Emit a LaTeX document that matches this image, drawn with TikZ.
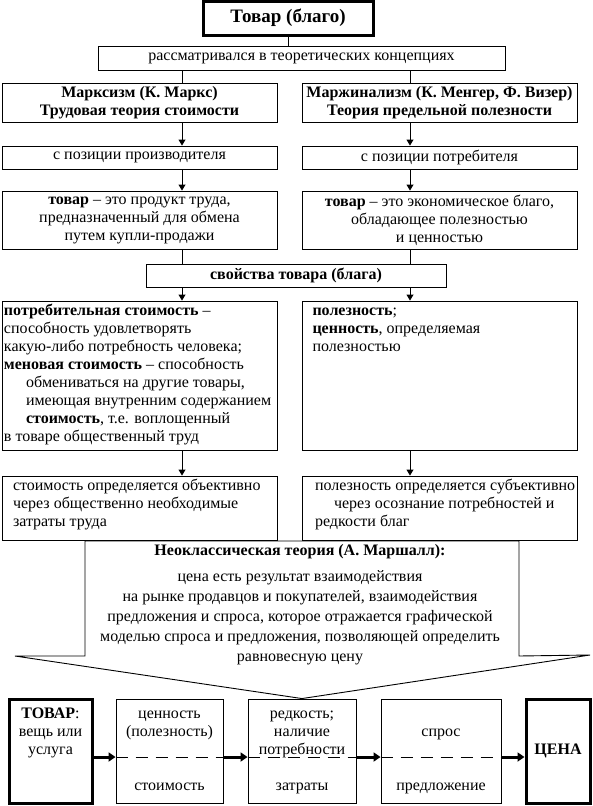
\documentclass[tikz,border=0pt]{standalone}
\usepackage{fontspec}
\setmainfont{Liberation Serif}
\usepackage{tikz}
\usetikzlibrary{arrows.meta, positioning, calc}

\newcommand{\bodyfont}{\fontsize{16pt}{18pt}\selectfont}
\newcommand{\rows}[1]{\begin{tabular}{@{}c@{}}#1\end{tabular}}
\newcommand{\leftcell}[3]{\parbox[c][#1][t]{#2}{\begin{tabular}{@{}l@{}}#3\end{tabular}}}

\begin{document}
\begin{tikzpicture}[x=1pt, y=-1pt, font=\bodyfont,
  box/.style={draw, line width=0.9pt, inner sep=0pt, align=center},
  heavybox/.style={box, line width=3pt},
  link/.style={line width=0.9pt},
  arr/.style={line width=0.9pt, -{Triangle[length=6pt, width=7pt]}},
  flow/.style={line width=3pt, -{Triangle[length=7pt, width=9pt]}},
  split/.style={line width=0.9pt, dash pattern=on 12pt off 8pt}]
  \useasboundingbox (0,0) rectangle (592,806);

  % Header
  \node[heavybox, minimum width=170pt, minimum height=34pt, font=\fontsize{19pt}{22pt}\selectfont\bfseries] (title) at (288,18) {Товар (благо)};
  \node[box, minimum width=407pt, minimum height=24pt] (concepts) at (301.5,58) {рассматривался в теоретических концепциях};
  \coordinate (lcol) at (182,0);
  \coordinate (rcol) at (410,0);

  % Marxism
  \node[box, minimum width=275pt, minimum height=39pt, font=\bodyfont\bfseries] (theoryL) at (139.5,102.5) {Марксизм (К. Маркс)\\Трудовая теория стоимости};
  \node[box, minimum width=275pt, minimum height=23pt] (viewL) at (139.5,157.5) {с позиции производителя};
  \node[box, minimum width=275pt, minimum height=58pt] (defL) at (139.5,220) {\textbf{товар} – это продукт труда,\\предназначенный для обмена\\путем купли-продажи};

  % Marginalism
  \node[box, minimum width=275pt, minimum height=39pt, font=\bodyfont\bfseries] (theoryR) at (439.5,102.5) {Маржинализм (К. Менгер, Ф. Визер)\\Теория предельной полезности};
  \node[box, minimum width=275pt, minimum height=23pt] (viewR) at (439.5,157.5) {с позиции потребителя};
  \node[box, minimum width=275pt, minimum height=58pt] (defR) at (439.5,220) {\textbf{товар} – это экономическое благо,\\обладающее полезностью\\и ценностью};

  % Properties
  \node[box, minimum width=300pt, minimum height=23pt, font=\bodyfont\bfseries] (props) at (296,275.5) {свойства товара (блага)};
  \node[box, minimum width=275pt, minimum height=149pt] (propL) at (139.5,375.5) {\leftcell{145pt}{271pt}{\textbf{потребительная стоимость} –\\способность удовлетворять\\какую-либо потребность человека;\\\textbf{меновая стоимость} – способность\\\hspace*{22pt}обмениваться на другие товары,\\\hspace*{22pt}имеющая внутренним содержанием\\\hspace*{22pt}\textbf{стоимость}, т.е. воплощенный\\в товаре общественный труд}};
  \node[box, minimum width=275pt, minimum height=149pt] (propR) at (439.5,375.5) {\leftcell{145pt}{254pt}{\textbf{полезность};\\\textbf{ценность}, определяемая\\полезностью}};

  % Value sources
  \node[box, minimum width=275pt, minimum height=64pt] (costL) at (139.5,508) {\leftcell{60pt}{253pt}{стоимость определяется объективно\\через общественно необходимые\\затраты труда}};
  \node[box, minimum width=275pt, minimum height=64pt] (costR) at (439.5,508) {\leftcell{60pt}{249pt}{полезность определяется субъективно\\\hspace*{19pt}через осознание потребностей и\\редкости благ}};

  \foreach \s/\c in {L/lcol, R/rcol} {
    \draw[link] (concepts.south -| \c) -- (theory\s.north -| \c);
    \draw[arr] (theory\s.south -| \c) -- (view\s.north -| \c);
    \draw[arr] (view\s.south -| \c) -- (def\s.north -| \c);
    \draw[link] (def\s.south -| \c) -- (props.north -| \c);
    \draw[arr] (props.south -| \c) -- (prop\s.north -| \c);
    \draw[arr] (prop\s.south -| \c) -- (cost\s.north -| \c);
  }
  \draw[link] (title) -- (title |- concepts.north);

  % Chain to price
  \coordinate (mid) at (0,757);
  \node[heavybox, minimum width=83pt, minimum height=104pt] (item) at (50.5,751) {\rows{\textbf{ТОВАР}:\\вещь или\\услуга\\~\\~}};
  \node[box, minimum width=107pt, minimum height=104pt] (value) at (169.5,751) {\rows{ценность\\(полезность)\\~\\~\\стоимость}};
  \node[box, minimum width=108pt, minimum height=104pt] (scarce) at (302,751) {\rows{редкость;\\наличие\\потребности\\~\\затраты}};
  \node[box, minimum width=120pt, minimum height=104pt] (market) at (441,751) {\rows{~\\спрос\\~\\~\\предложение}};
  \node[heavybox, minimum width=64pt, minimum height=104pt, font=\bodyfont\bfseries] (price) at (558,751) {ЦЕНА};

  \draw[flow] (item.east |- mid) -- (value.west |- mid);
  \draw[flow] (value.east |- mid) -- (scarce.west |- mid);
  \draw[flow] (scarce.east |- mid) -- (market.west |- mid);
  \draw[flow] (market.east |- mid) -- (price.west |- mid);
  \draw[split] (value.west |- mid) -- (value.east |- mid);
  \draw[split] (scarce.west |- mid) -- (scarce.east |- mid);
  \draw[split] (market.west |- mid) -- (market.east |- mid);

  % Neoclassical theory
  \draw[link] (85,541) -- (519,541) -- (519,656) -- (590,655) -- (scarce.north) -- (15,656) -- (85,656) -- cycle;
  \node[align=center, inner sep=0pt, font=\fontsize{16pt}{20pt}\selectfont] (neo) at (300,604.5) {\textbf{Неоклассическая теория (А. Маршалл):}\\[6pt]цена есть результат взаимодействия\\на рынке продавцов и покупателей, взаимодействия\\предложения и спроса, которое отражается графической\\моделью спроса и предложения, позволяющей определить\\равновесную цену};
\end{tikzpicture}
\end{document}
